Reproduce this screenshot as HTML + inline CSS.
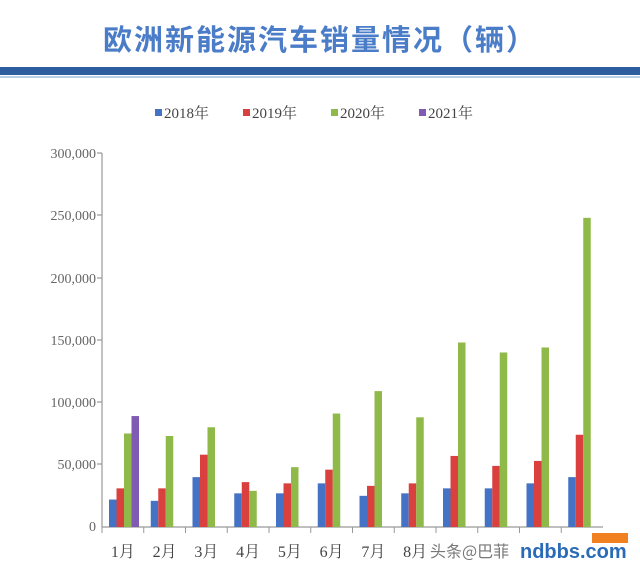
<!DOCTYPE html>
<html><head><meta charset="utf-8"><style>
body{margin:0;width:640px;height:575px;background:#fff;overflow:hidden;font-family:"Liberation Serif","Noto Serif CJK SC",serif}
</style></head><body>
<svg width="640" height="575" xmlns="http://www.w3.org/2000/svg">
<text x="320" y="50" text-anchor="middle" font-family="'Noto Sans CJK SC',sans-serif" font-size="29" font-weight="bold" fill="#4a7cc8" letter-spacing="2">欧洲新能源汽车销量情况（辆）</text>
<rect x="0" y="67" width="640" height="8" fill="#2d5d9e"/>
<rect x="0" y="76" width="640" height="2" fill="#b9cde8"/>
<g font-size="15" fill="#444" font-family="'Liberation Serif','Noto Serif CJK SC',serif">
<rect x="155" y="109" width="7" height="7" fill="#4472c4"/><text x="164" y="118">2018年</text>
<rect x="243" y="109" width="7" height="7" fill="#d9403e"/><text x="252" y="118">2019年</text>
<rect x="331" y="109" width="7" height="7" fill="#8fba49"/><text x="340" y="118">2020年</text>
<rect x="419" y="109" width="7" height="7" fill="#7f5bb3"/><text x="428" y="118">2021年</text>
</g>
<g font-size="14" fill="#666" text-anchor="end">
<text x="96" y="158">300,000</text><text x="96" y="220">250,000</text><text x="96" y="283">200,000</text><text x="96" y="345">150,000</text><text x="96" y="407">100,000</text><text x="96" y="469">50,000</text><text x="96" y="531">0</text>
</g>
<g stroke="#999" stroke-width="1.2">
<line x1="102" y1="153" x2="102" y2="527"/>
<line x1="102" y1="527" x2="603" y2="527"/>
<line x1="97" y1="153" x2="102" y2="153"/><line x1="97" y1="215" x2="102" y2="215"/><line x1="97" y1="278" x2="102" y2="278"/><line x1="97" y1="340" x2="102" y2="340"/><line x1="97" y1="402" x2="102" y2="402"/><line x1="97" y1="464" x2="102" y2="464"/>
</g>
<g id="bars"></g>
<g id="xl" font-size="16" fill="#444" text-anchor="middle"></g>
<g id="tk" stroke="#999"></g>
<text x="430" y="557" font-size="16" fill="#777" font-family="'Noto Sans CJK SC',sans-serif">头条@巴菲</text>
<text x="520" y="558" font-size="20" fill="#2a6bb8" font-weight="bold" font-family="'Liberation Sans',sans-serif">ndbbs.com</text>
<rect x="592" y="533" width="36" height="10" fill="#f08020"/>
</svg>
<script>
var d=[[22,31,75,89],[21,31,73],[40,58,80],[27,36,29],[27,35,48],[35,46,91],[25,33,109],[27,35,88],[31,57,148],[31,49,140],[35,53,144],[40,74,248]];
var c=["#4472c4","#d9403e","#8fba49","#7f5bb3"];var ns="http://www.w3.org/2000/svg";
var gw=501/12,s=374/300,b=document.getElementById("bars"),xl=document.getElementById("xl"),tk=document.getElementById("tk");
d.forEach(function(g,i){var x0=102+i*gw;
g.forEach(function(v,j){var r=document.createElementNS(ns,"rect");var h=v*s;
r.setAttribute("x",x0+7+j*7.5);r.setAttribute("y",527-h);r.setAttribute("width",7.5);r.setAttribute("height",h);r.setAttribute("fill",c[j]);b.appendChild(r);});
var l=document.createElementNS(ns,"line");l.setAttribute("x1",x0);l.setAttribute("x2",x0);l.setAttribute("y1",527);l.setAttribute("y2",533);tk.appendChild(l);
if(i<8){var t=document.createElementNS(ns,"text");t.setAttribute("x",x0+gw/2);t.setAttribute("y",557);t.textContent=(i+1)+"月";xl.appendChild(t);}
});
</script>
</body></html>
